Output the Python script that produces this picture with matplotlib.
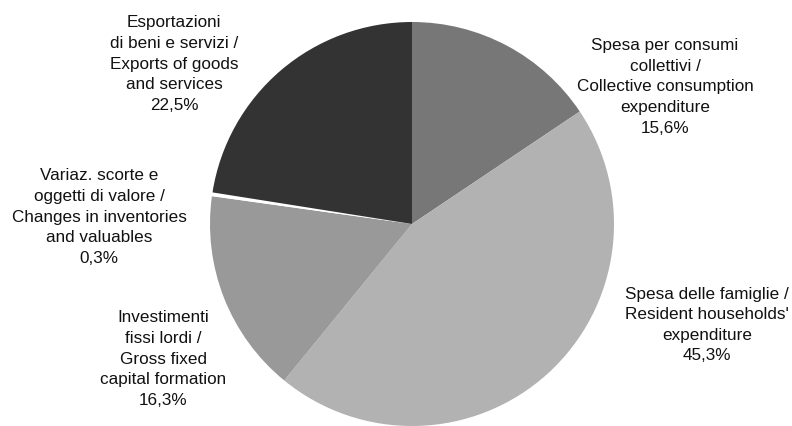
import matplotlib
matplotlib.use("Agg")
import matplotlib.pyplot as plt

# Data
labels = [
    "Spesa per consumi\ncollettivi /\nCollective consumption\nexpenditure",
    "Spesa delle famiglie /\nResident households'\nexpenditure",
    "Investimenti\nfissi lordi /\nGross fixed\ncapital formation",
    "Variaz. scorte e\noggetti di valore /\nChanges in inventories\nand valuables",
    "Esportazioni\ndi beni e servizi /\nExports of goods\nand services",
]
values = [15.6, 45.3, 16.3, 0.3, 22.5]
value_labels = ["15,6%", "45,3%", "16,3%", "0,3%", "22,5%"]

# Styles / layout
colors = ["#777777", "#b2b2b2", "#999999", "#ffffff", "#333333"]
W, H = 792, 426
cx, cy, R = 412, 224, 202  # pixel centre & radius of the pie
label_px = [(665, 87), (707, 325), (163, 359), (99, 217), (174, 64)]

plt.rcParams["font.family"] = ["Liberation Sans", "DejaVu Sans"]
fig = plt.figure(figsize=(W / 100, H / 100), dpi=100)
ax = fig.add_axes([0, 0, 1, 1])
ax.pie(values, colors=colors, startangle=90, counterclock=False,
       radius=1.0, center=(0, 0), wedgeprops=dict(linewidth=0))
ax.set_xlim(-cx / R, (W - cx) / R)
ax.set_ylim(-(H - cy) / R, cy / R)
ax.set_aspect("equal")
ax.axis("off")

for lab, vl, (px, py) in zip(labels, value_labels, label_px):
    ax.text((px - cx) / R, (cy - py) / R, lab + "\n" + vl,
            ha="center", va="center", fontsize=12.3, linespacing=1.47,
            color="#111111")

fig.savefig("out.png", dpi=100)
